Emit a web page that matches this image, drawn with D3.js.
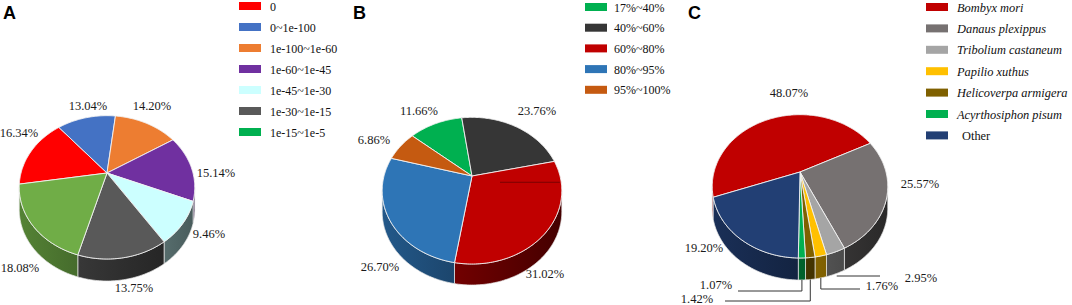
<!DOCTYPE html>
<html><head><meta charset="utf-8">
<script src="https://cdn.jsdelivr.net/npm/d3@7"></script>
<style>body{margin:0;background:#fff} svg{display:block}
.serif{font-family:'Liberation Serif','Tinos','DejaVu Serif',serif}
.sans{font-family:'Liberation Sans','Arimo',Arial,sans-serif}
</style>
</head><body>
<svg id="chart" width="1072" height="305"></svg>
<script>
// ---------- data ----------
const catsA = ["0","0~1e-100","1e-100~1e-60","1e-60~1e-45","1e-45~1e-30","1e-30~1e-15","1e-15~1e-5"];
const valsA = [16.34,13.04,14.20,15.14,9.46,13.75,18.08];
const catsB = ["17%~40%","40%~60%","60%~80%","80%~95%","95%~100%"];
const valsB = [11.66,23.76,31.02,26.70,6.86];
const catsC = ["Bombyx mori","Danaus plexippus","Tribolium castaneum","Papilio xuthus","Helicoverpa armigera","Acyrthosiphon pisum","Other"];
const valsC = [48.07,25.57,2.95,1.76,1.42,1.07,19.20];

// ---------- styles / layout ----------
const colA = ["#FF0000","#4472C4","#ED7D31","#7030A0","#CCFFFF","#595959","#70AD47"];
const legColA = ["#FF0000","#4472C4","#ED7D31","#7030A0","#CCFFFF","#595959","#00B050"];
const colB = ["#00B050","#363636","#C00000","#2E75B6","#C55A11"];
const colC = ["#C00000","#767171","#A5A5A5","#FFC000","#7F6000","#00B050","#223F74"];

const labPosA = [[19,137],[88,110],[152,110],[216,177],[209,238],[134,292],[20,272]];
const labPosB = [[419,115],[537,115],[545,278],[380,271],[374,144]];
const labPosC = [[789,97],[920,188],[921,282],[882,290],[697,303],[716,289],[704,252]];

const svg = d3.select("#chart");
const defs = svg.append("defs");
const S = 0.8, C = 0.6, D = 3;
let gid = 0;

function scaleCol(c, k){ const r = d3.rgb(c); return d3.rgb(r.r*k, r.g*k, r.b*k).formatHex(); }

function drawPie(cfg){
  const g = svg.append("g");
  const proj = (t, r=1) => {
    const X = r*Math.sin(t), dd = r*Math.cos(t);
    const Y = -dd*S, Z = D + dd*C;
    return [cfg.cx + cfg.f*X/Z, cfg.cy + cfg.f*Y/Z];
  };
  const st = cfg.start*Math.PI/180;
  const arcs = d3.pie().sort(null).value(d=>d).startAngle(st).endAngle(st+2*Math.PI)(cfg.values);
  const rim = (a0,a1) => { const n = Math.max(2, Math.ceil((a1-a0)*180/Math.PI)); return d3.range(n+1).map(i => proj(a0+(a1-a0)*i/n)); };
  const line = d3.line();
  const tv = Math.acos(-C/D);
  const rx = cfg.f/D;
  // sides
  arcs.forEach((a,i)=>{
    for(let k=-1;k<=1;k++){
      const lo = Math.max(a.startAngle, tv+2*Math.PI*k), hi = Math.min(a.endAngle, 2*Math.PI-tv+2*Math.PI*k);
      if(hi>lo){
        const top = rim(lo,hi);
        const bot = top.map(p=>[p[0],p[1]+cfg.depth]).reverse();
        const id = "sg"+(gid++);
        const gr = defs.append("linearGradient").attr("id",id).attr("gradientUnits","userSpaceOnUse")
          .attr("x1",cfg.cx-rx).attr("x2",cfg.cx+rx).attr("y1",0).attr("y2",0);
        gr.append("stop").attr("offset",0).attr("stop-color",scaleCol(cfg.colors[i],0.75));
        gr.append("stop").attr("offset",1).attr("stop-color",scaleCol(cfg.colors[i],0.36));
        g.append("path").attr("d", line(top.concat(bot))+"Z").attr("fill","url(#"+id+")")
          .attr("stroke","#e8e8e8").attr("stroke-width",0.7);
      }
    }
  });
  // top faces
  arcs.forEach((a,i)=>{
    const pts = [[cfg.cx,cfg.cy]].concat(rim(a.startAngle,a.endAngle));
    g.append("path").attr("d", line(pts)+"Z").attr("fill",cfg.colors[i])
      .attr("stroke","#f2f2f2").attr("stroke-width",0.9).attr("stroke-linejoin","round");
  });
  // labels
  g.selectAll("text.lab").data(cfg.values).join("text").attr("class","lab serif")
    .attr("x",(d,i)=>cfg.labPos[i][0]).attr("y",(d,i)=>cfg.labPos[i][1])
    .attr("text-anchor","middle")
    .attr("font-size",12.5).attr("fill","#1a1a1a").text(d=>d.toFixed(2)+"%");
  return {g, arcs, proj};
}

function drawLegend(cfg){
  const g = svg.append("g");
  cfg.cats.forEach((c,i)=>{
    const yc = cfg.y0 + i*cfg.dy;
    g.append("rect").attr("x",cfg.x).attr("y",yc-4).attr("width",22).attr("height",8).attr("fill",cfg.colors[i]);
    g.append("text").attr("class","serif").attr("x",cfg.tx + (cfg.italic && !cfg.italic[i] ? 5 : 0)).attr("y",yc+4.5)
      .attr("font-size",cfg.fs)
      .attr("font-style", cfg.italic && cfg.italic[i] ? "italic" : "normal")
      .attr("fill","#111").text(c);
  });
}

function panelLetter(t,x){
  svg.append("text").attr("class","sans").attr("x",x).attr("y",18.5)
    .attr("font-weight","bold").attr("font-size",18).attr("fill","#000").text(t);
}

// ---------- panel A ----------
panelLetter("A",3);
drawPie({cx:107, cy:173, f:258, depth:22, start:-99, values:valsA, colors:colA, labPos:labPosA});
drawLegend({cats:catsA, colors:legColA, x:239, tx:270, y0:6, dy:21, fs:12});

// ---------- panel B ----------
panelLetter("B",353);
const pB = drawPie({cx:472, cy:176, f:264, depth:21, start:-50, values:valsB, colors:colB, labPos:labPosB});
{ const p = pB.proj(Math.PI/2 + 0.06);
  pB.g.append("line").attr("x1",pB.proj(0,0)[0]+28).attr("x2",p[0]-1).attr("y1",p[1]+2).attr("y2",p[1]+2)
    .attr("stroke","#7a0000").attr("stroke-width",1); }
drawLegend({cats:catsB, colors:colB, x:585, tx:614, y0:7, dy:20.7, fs:12});

// ---------- panel C ----------
panelLetter("C",688);
const pC = drawPie({cx:800, cy:172, f:258, depth:22, start:-110, values:valsC, colors:colC, labPos:labPosC});
const leaders = [
  {i:2, yl:276, xe:880, straight:true},
  {i:3, yl:289, xe:860},
  {i:4, yl:301, xe:725},
  {i:5, yl:291, xe:738}
];
leaders.forEach(L=>{
  const a = pC.arcs[L.i]; const m = (a.startAngle+a.endAngle)/2; const p = pC.proj(m);
  const y0 = p[1] + 22;
  const pts = L.straight ? [[p[0]+1,L.yl],[L.xe,L.yl]] : [[p[0],y0],[p[0],L.yl],[L.xe,L.yl]];
  pC.g.append("path").attr("d",d3.line()(pts)).attr("fill","none").attr("stroke","#333").attr("stroke-width",1);
});
drawLegend({cats:catsC, colors:colC, x:926, tx:957, y0:7, dy:21.4, fs:12.4,
  italic:[true,true,true,true,true,true,false]});
</script>
</body></html>
